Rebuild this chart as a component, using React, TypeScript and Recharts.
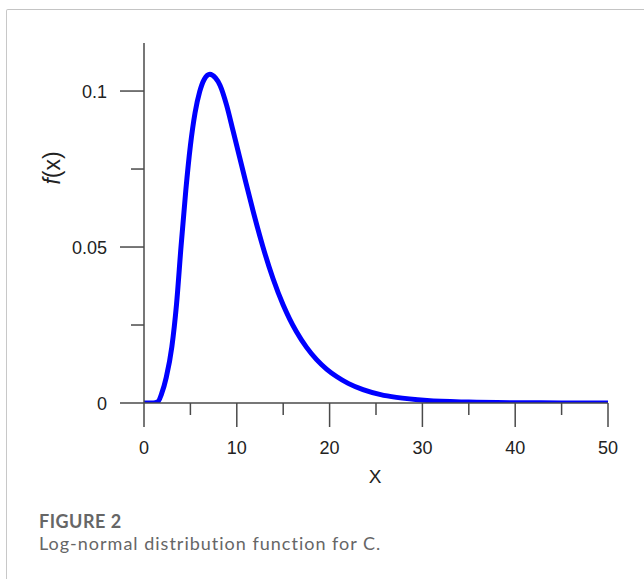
import React from 'react';
import { LineChart, Line, XAxis, YAxis } from 'recharts';

// curve (x, f(x))
const xValues = [0, 1, 1.5, 1.9, 2.4, 3.0, 3.5, 4.0, 4.5, 5.0, 5.5, 6.0, 6.5, 7.1, 7.7, 8.2, 8.9, 9.6, 10.3, 11.0, 11.8, 12.8, 13.9, 15.0, 15.7, 16.4, 17.5, 18.6, 19.7, 20.75, 22.0, 23.6, 25.5, 27.2, 30.5, 35, 40, 45, 50];
const densityValues = [0, 0, 0.0004, 0.003, 0.0082, 0.018, 0.0315, 0.0505, 0.068, 0.0825, 0.093, 0.0998, 0.1038, 0.1054, 0.1042, 0.1018, 0.0955, 0.0872, 0.0788, 0.0704, 0.061, 0.0502, 0.0399, 0.0314, 0.0269, 0.023, 0.0179, 0.0139, 0.0108, 0.0085, 0.0063, 0.0043, 0.0027, 0.0018, 0.0008, 0.0003, 0.0001, 0.00004, 0.00001];

const xMajorTicks = [0, 10, 20, 30, 40, 50];
const xMinorTicks = [5, 15, 25, 35, 45];
const yMajorTicks = [0, 0.05, 0.1];
const yMinorTicks = [0.025, 0.075];
const yTickLabels = ['0', '0.05', '0.1'];

const data = xValues.map((x, i) => ({ x, y: densityValues[i] }));

const axisColor = '#4a4a4a';
const labelFont = '"Liberation Sans", Arial, sans-serif';

const XTick = ({ x, y, payload }: any) => {
  const major = xMajorTicks.includes(payload.value);
  return (
    <g>
      <line x1={x} x2={x} y1={y} y2={y + (major ? 24 : 12)} stroke={axisColor} strokeWidth={1.5} />
      {major && (
        <text x={x} y={y + 51} textAnchor="middle" fontSize={18} fontFamily={labelFont} fill="#222">
          {payload.value}
        </text>
      )}
    </g>
  );
};

const YTick = ({ x, y, payload }: any) => {
  const idx = yMajorTicks.indexOf(payload.value);
  const major = idx >= 0;
  return (
    <g>
      <line x1={x - (major ? 24 : 13)} x2={x} y1={y} y2={y} stroke={axisColor} strokeWidth={1.5} />
      {major && (
        <text x={x - 37} y={y + 6.5} textAnchor="end" fontSize={18} fontFamily={labelFont} fill="#222">
          {yTickLabels[idx]}
        </text>
      )}
    </g>
  );
};

export default function App() {
  return (
    <div style={{ position: 'absolute', left: 0, top: 0, width: 644, height: 579, background: '#fff', overflow: 'hidden' }}>
      <div
        style={{
          position: 'absolute',
          left: 6,
          top: 9,
          right: -4,
          bottom: -4,
          borderLeft: '1px solid #c8c8c8',
          borderTop: '1.5px solid #c4c4c4',
          borderTopLeftRadius: 2,
        }}
      />
      <LineChart
        width={644}
        height={579}
        data={data}
        margin={{ top: 43, right: 36, bottom: 96, left: 44 }}
        style={{ position: 'absolute', left: 0, top: 0 }}
      >
        <XAxis
          dataKey="x"
          type="number"
          domain={[0, 50]}
          ticks={[...xMajorTicks, ...xMinorTicks].sort((a, b) => a - b)}
          tickLine={false}
          tickSize={0}
          tickMargin={0}
          height={80}
          axisLine={{ stroke: axisColor, strokeWidth: 1.5 }}
          tick={<XTick />}
          interval={0}
        />
        <YAxis
          type="number"
          domain={[0, 0.1154]}
          ticks={[...yMajorTicks, ...yMinorTicks].sort((a, b) => a - b)}
          tickLine={false}
          tickSize={0}
          tickMargin={0}
          width={100}
          axisLine={{ stroke: axisColor, strokeWidth: 1.5 }}
          tick={<YTick />}
          interval={0}
          allowDataOverflow
        />
        <Line
          dataKey="y"
          type="monotone"
          stroke="#0000ff"
          strokeWidth={5}
          dot={false}
          isAnimationActive={false}
        />
      </LineChart>
      <div
        style={{
          position: 'absolute',
          left: 52,
          top: 168,
          transform: 'translate(-50%, -50%) rotate(-90deg)',
          fontFamily: labelFont,
          fontSize: 23,
          color: '#222',
          whiteSpace: 'nowrap',
        }}
      >
        <i>f</i>(x)
      </div>
      <div
        style={{
          position: 'absolute',
          left: 375,
          top: 477,
          transform: 'translate(-50%, -50%)',
          fontFamily: labelFont,
          fontSize: 19,
          color: '#222',
        }}
      >
        X
      </div>
      <div style={{ position: 'absolute', left: 39, top: 510, fontFamily: 'Lato, "Open Sans", sans-serif', color: '#666' }}>
        <div style={{ fontSize: 18, fontWeight: 700, lineHeight: '22px', letterSpacing: 0.5 }}>FIGURE 2</div>
        <div style={{ fontSize: 18, lineHeight: '22px', letterSpacing: 1 }}>Log-normal distribution function for C.</div>
      </div>
    </div>
  );
}
